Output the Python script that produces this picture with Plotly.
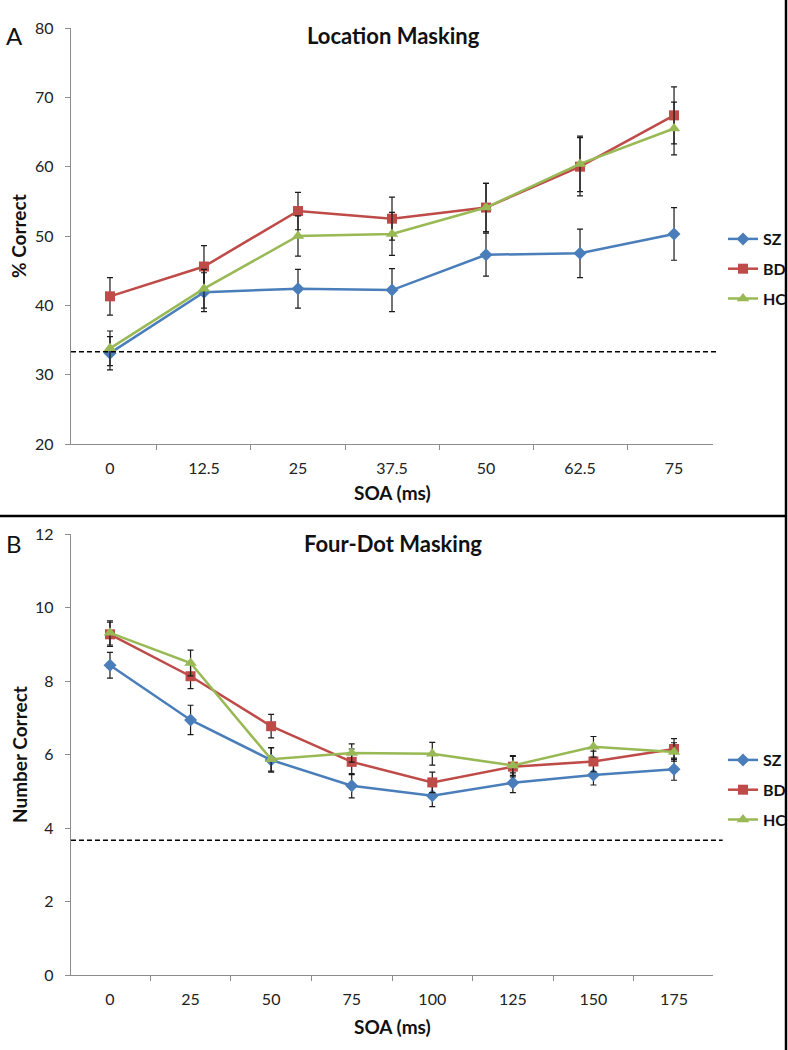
import plotly.graph_objects as go

# panel A: location masking
soa_a = ["0", "12.5", "25", "37.5", "50", "62.5", "75"]
sz_a = [33.1, 41.9, 42.4, 42.2, 47.3, 47.5, 50.3]
sz_a_err = [2.4, 2.8, 2.8, 3.1, 3.1, 3.5, 3.8]
bd_a = [41.3, 45.6, 53.6, 52.5, 54.1, 60.0, 67.4]
bd_a_err = [2.7, 3.0, 2.7, 3.1, 3.5, 4.2, 4.1]
hc_a = [33.8, 42.4, 50.0, 50.3, 54.1, 60.4, 65.5]
hc_a_err = [2.5, 2.8, 2.9, 3.1, 3.5, 4.0, 3.8]
chance_a = 33.3

# panel B: four-dot masking
soa_b = ["0", "25", "50", "75", "100", "125", "150", "175"]
sz_b = [8.43, 6.94, 5.85, 5.15, 4.88, 5.23, 5.44, 5.6]
sz_b_err = [0.35, 0.4, 0.33, 0.33, 0.3, 0.27, 0.27, 0.3]
bd_b = [9.27, 8.13, 6.77, 5.8, 5.24, 5.67, 5.81, 6.15]
bd_b_err = [0.33, 0.34, 0.32, 0.35, 0.28, 0.28, 0.28, 0.28]
hc_b = [9.31, 8.49, 5.87, 6.04, 6.02, 5.7, 6.21, 6.07]
hc_b_err = [0.33, 0.35, 0.32, 0.25, 0.31, 0.27, 0.28, 0.25]
chance_b = 3.67

groups = ["SZ", "BD", "HC"]
colors = {"SZ": "#4A7EBB", "BD": "#BE4B48", "HC": "#98B954"}
symbols = {"SZ": "diamond", "BD": "square", "HC": "triangle-up"}
sizes = {"SZ": 10, "BD": 10, "HC": 11}

W, H = 788, 1050
FONT = "Lato"


def X(px):
    return px / W


def Y(py):
    return 1 - py / H


fig = go.Figure()


def add_series(x, y, err, name, xa, ya, legend):
    fig.add_trace(go.Scatter(
        x=x, y=y, name=name, mode="lines+markers",
        xaxis=xa, yaxis=ya, legend=legend, legendgroup=legend + name,
        line=dict(color=colors[name], width=2.5),
        marker=dict(symbol=symbols[name], size=sizes[name], color=colors[name]),
        error_y=dict(type="data", array=err, color="#1a1a1a", thickness=1.2, width=3),
    ))


for g, y, e in zip(groups, [sz_a, bd_a, hc_a], [sz_a_err, bd_a_err, hc_a_err]):
    add_series(soa_a, y, e, g, "x", "y", "legend")
for g, y, e in zip(groups, [sz_b, bd_b, hc_b], [sz_b_err, bd_b_err, hc_b_err]):
    add_series(soa_b, y, e, g, "x2", "y2", "legend2")

xd = [X(71), X(713)]
axis_common = dict(showline=True, linecolor="#8c8c8c", linewidth=1.3, ticks="outside",
                   ticklen=5, tickcolor="#8c8c8c", showgrid=False, zeroline=False,
                   automargin=False,
                   tickfont=dict(family=FONT, size=16, color="#222"))
legend_common = dict(xanchor="left", yanchor="top",
                     font=dict(family=FONT, size=16, color="#111", weight="bold"),
                     itemwidth=30, tracegroupgap=6, bgcolor="rgba(0,0,0,0)")

fig.update_layout(
    width=W, height=H, margin=dict(l=0, r=0, t=0, b=0, autoexpand=False),
    paper_bgcolor="white", plot_bgcolor="white",
    font=dict(family=FONT, color="#111"),
    xaxis=dict(domain=xd, anchor="y", type="category", tickson="boundaries",
               ticklabelstandoff=10, **axis_common),
    yaxis=dict(domain=[Y(444), Y(28)], anchor="x", range=[20, 80], dtick=10,
               ticklabelstandoff=8, **axis_common),
    xaxis2=dict(domain=xd, anchor="y2", type="category", tickson="boundaries",
                ticklabelstandoff=10, **axis_common),
    yaxis2=dict(domain=[Y(975), Y(534)], anchor="x2", range=[0, 12], dtick=2,
                ticklabelstandoff=8, **axis_common),
    legend=dict(x=X(723), y=Y(222), **legend_common),
    legend2=dict(x=X(723), y=Y(743), **legend_common),
)

# chance lines
fig.add_shape(type="line", xref="x domain", yref="y", x0=0, x1=1.008,
              y0=chance_a, y1=chance_a, line=dict(color="black", width=1.5, dash="5px,3px"))
fig.add_shape(type="line", xref="x2 domain", yref="y2", x0=0, x1=1.015,
              y0=chance_b, y1=chance_b, line=dict(color="black", width=1.5, dash="5px,3px"))

# panel frame lines
fig.add_shape(type="line", xref="paper", yref="paper", x0=X(0), x1=X(786),
              y0=Y(516), y1=Y(516), line=dict(color="black", width=2.5))
fig.add_shape(type="line", xref="paper", yref="paper", x0=X(786), x1=X(786),
              y0=Y(1050), y1=Y(0), line=dict(color="black", width=2.5))


def note(text, x, y, size, bold=True, angle=0):
    fig.add_annotation(text=text, x=X(x), y=Y(y), xref="paper", yref="paper",
                       xanchor="center", yanchor="middle",
                       showarrow=False, textangle=angle,
                       font=dict(family=FONT, size=size, color="#111",
                                 weight="bold" if bold else "normal"))


note("Location Masking", 393, 36, 22)
note("Four-Dot Masking", 393, 543, 22)
note("A", 14, 36, 24, bold=False)
note("B", 14, 543, 24, bold=False)
note("% Correct", 19, 236, 19, angle=-90)
note("Number Correct", 19, 755, 19, angle=-90)
note("SOA (ms)", 392, 493, 19)
note("SOA (ms)", 392, 1026, 19)

# drop the default page margin so the figure fills the window exactly
fig.write_html("out.html", config={"displayModeBar": False},
               post_script="document.body.style.margin='0';document.body.style.overflow='hidden';")
